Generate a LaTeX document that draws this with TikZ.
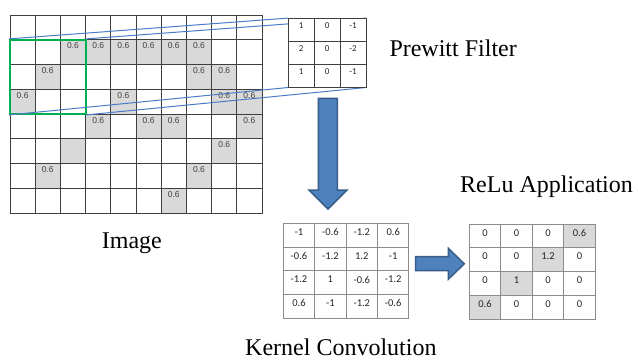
\documentclass[tikz,border=0pt]{standalone}
\usepackage{fontspec}
\setmainfont{Liberation Serif}
\newfontfamily\calfont{Carlito}
\newfontfamily\arfont{Liberation Sans}
\usetikzlibrary{fit}
\definecolor{shadec}{HTML}{D9D9D9}
\definecolor{gridc}{HTML}{3F3F3F}
\definecolor{kgridc}{HTML}{8C8C8C}
\definecolor{greenc}{HTML}{00B050}
\definecolor{linec}{HTML}{4A7CC9}
\definecolor{arrowfill}{HTML}{4F81BD}
\definecolor{arrowdraw}{HTML}{385D8A}
\definecolor{txtc}{HTML}{404040}
\definecolor{ktxtc}{HTML}{262626}
\pgfdeclarelayer{bglayer}
\pgfdeclarelayer{imglayer}
\pgfdeclarelayer{linelayer}
\pgfsetlayers{bglayer,imglayer,linelayer,main}
\begin{document}
\begin{tikzpicture}[x=1pt,y=-1pt,
  imgcell/.style={draw=gridc, line width=0.9pt, minimum width=25.2pt, minimum height=24.75pt, inner sep=0pt, outer sep=0pt, anchor=north west},
  imgshade/.style={fill=shadec, minimum width=25.2pt, minimum height=24.75pt, inner sep=0pt, outer sep=0pt, anchor=north west},
  imgnum/.style={font=\arfont\fontsize{8.5}{10}\selectfont, text=txtc, anchor=north, inner sep=0pt, yshift=-3pt},
  fcell/.style={draw=gridc, fill=white, line width=0.9pt, minimum width=25.9pt, minimum height=23pt, inner sep=0pt, outer sep=0pt, anchor=north west},
  fnum/.style={font=\calfont\fontsize{9}{10}\selectfont, text=ktxtc, anchor=north, inner sep=0pt, yshift=-4pt},
  kcell/.style={draw=kgridc, line width=0.9pt, minimum width=31.4pt, minimum height=23.75pt, inner sep=0pt, outer sep=0pt, anchor=north west},
  kshade/.style={kcell, fill=shadec},
  knum/.style={font=\calfont\fontsize{10.5}{12}\selectfont, text=ktxtc, anchor=north, inner sep=0pt, yshift=-5pt},
  greenbox/.style={draw=greenc, line width=1.8pt, inner sep=0pt},
  blueline/.style={draw=linec, line width=1pt},
  blockarrow/.style={fill=arrowfill, draw=arrowdraw, line width=1.5pt},
  lbl/.style={font=\fontsize{24}{28}\selectfont, inner sep=0pt, anchor=base west}
]
\useasboundingbox (0,0) rectangle (638,360);
\begin{pgfonlayer}{bglayer}
\fill[white] (0,0) rectangle (638,360);
\end{pgfonlayer}

% ---------- Image grid ----------
\begin{pgfonlayer}{imglayer}
\foreach \r/\c in {1/2,1/3,1/4,1/5,1/6,1/7,2/1,2/7,2/8,3/0,3/4,3/8,3/9,4/3,4/5,4/6,4/9,5/2,5/8,6/1,6/7,7/6}
  \node[imgshade] (S-\r-\c) at ({10+25.2*\c},{15+24.75*\r}) {};
\foreach \r in {0,...,7}
  \foreach \c in {0,...,9}
    \node[imgcell] (I-\r-\c) at ({10+25.2*\c},{15+24.75*\r}) {};
\foreach \r/\c in {1/2,1/3,1/4,1/5,1/6,1/7,2/1,2/7,2/8,3/0,3/4,3/8,3/9,4/3,4/5,4/6,4/9,5/8,6/1,6/7,7/6}
  \node[imgnum] (T-\r-\c) at (I-\r-\c.north) {0.6};
\node[greenbox, fit=(I-1-0)(I-3-2)] (G) {};
\end{pgfonlayer}

% ---------- Prewitt filter ----------
\foreach \r/\c/\v in {0/0/1,0/1/0,0/2/-1,1/0/2,1/1/0,1/2/-2,2/0/1,2/1/0,2/2/-1}{
  \node[fcell] (F-\r-\c) at ({288.3+25.9*\c},{18.3+23*\r}) {};
  \node[fnum] (FT-\r-\c) at (F-\r-\c.north) {\v};
}
\node[inner sep=0pt, fit=(F-0-0)(F-2-2)] (F) {};

\begin{pgfonlayer}{linelayer}
\draw[blueline] (G.north west) -- (F.north west);
\draw[blueline] (G.north east) -- (F.north east);
\draw[blueline] (G.south west) -- (F.south west);
\draw[blueline] (G.south east) -- (F.south east);
\end{pgfonlayer}

% ---------- Kernel convolution grid ----------
\foreach \r/\c/\v in {0/0/-1,0/1/-0.6,0/2/-1.2,0/3/0.6,
                      1/0/-0.6,1/1/-1.2,1/2/1.2,1/3/-1,
                      2/0/-1.2,2/1/1,2/2/-0.6,2/3/-1.2,
                      3/0/0.6,3/1/-1,3/2/-1.2,3/3/-0.6}{
  \node[kcell] (K-\r-\c) at ({283.3+31.4*\c},{223.3+23.75*\r}) {};
  \node[knum] (KT-\r-\c) at (K-\r-\c.north) {\v};
}

% ---------- ReLU grid ----------
\foreach \r/\c/\v in {0/0/0,0/1/0,0/2/0,
                      1/0/0,1/1/0,1/3/0,
                      2/0/0,2/2/0,2/3/0,
                      3/1/0,3/2/0,3/3/0}{
  \node[kcell] (R-\r-\c) at ({469.3+31.5*\c},{224+23.75*\r}) {};
  \node[knum] (RT-\r-\c) at (R-\r-\c.north) {\v};
}
\foreach \r/\c/\v in {0/3/0.6,1/2/1.2,2/1/1,3/0/0.6}{
  \node[kshade] (R-\r-\c) at ({469.3+31.5*\c},{224+23.75*\r}) {};
  \node[knum] (RT-\r-\c) at (R-\r-\c.north) {\v};
}

% ---------- Block arrows ----------
\draw[blockarrow] (318.3,98.3) -- (337.3,98.3) -- (337.3,190) -- (347,190) -- (328,209) -- (309,190) -- (318.3,190) -- cycle;
\draw[blockarrow] (415.7,256.7) -- (448.3,256.7) -- (448.3,248.3) -- (464.3,263.8) -- (448.3,279.3) -- (448.3,270.7) -- (415.7,270.7) -- cycle;

% ---------- Labels ----------
\node[lbl] (Lpre) at (389.3,56.7) {Prewitt Filter};
\node[lbl] (Limg) at (101.7,248.3) {Image};
\node[lbl] (Lrelu) at (460,192.3) {ReLu Application};
\node[lbl] (Lconv) at (245,355) {Kernel Convolution};
\end{tikzpicture}
\end{document}
